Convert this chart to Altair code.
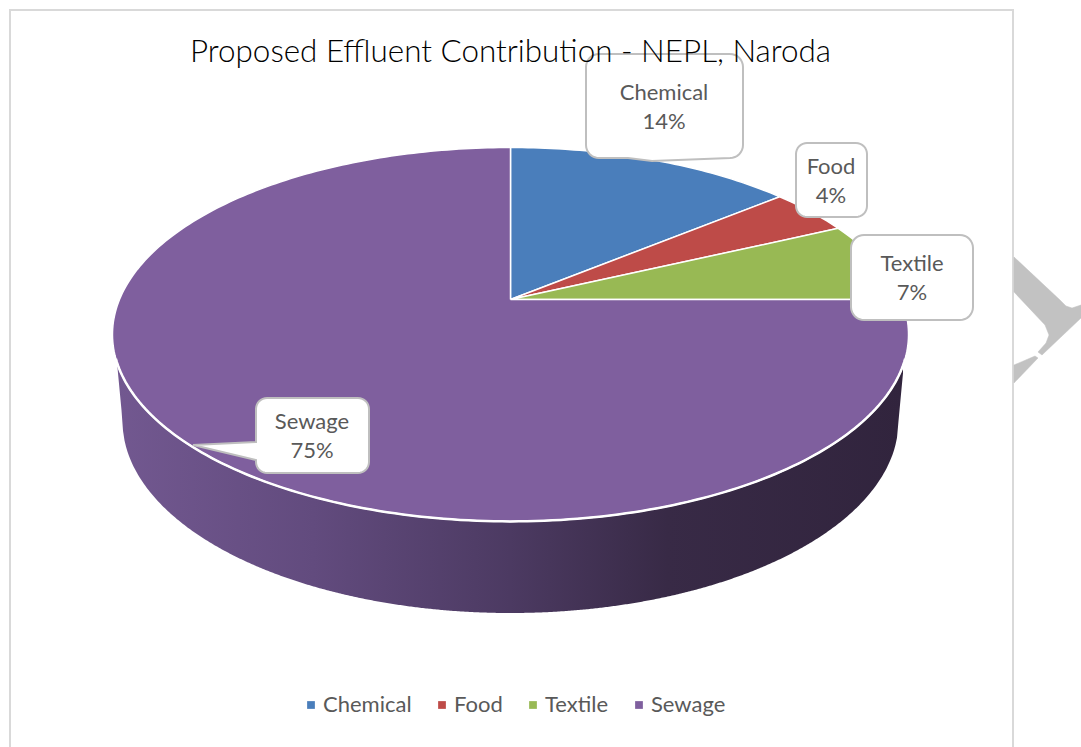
import altair as alt
import numpy as np
import pandas as pd

# Effluent shares, in percent
categories = ["Chemical", "Food", "Textile", "Sewage"]
shares = [14, 4, 7, 75]
colors = ["#4a7ebb", "#be4b48", "#98b954", "#7f5f9e"]

W, H = 1081, 747
FONT = "Lato"

# Perspective of the pie's top face: apex on screen, radii and foreshortening
CX, APEX_Y = 510.5, 299.5
A, B, K = 391.0, 180.4, 0.187
TOP_RX = A / np.sqrt(1 - K**2)
TOP_RY = B / (1 - K**2)
TOP_CY = APEX_Y + B * K / (1 - K**2)

# Lower rim of the extruded side wall
WALL_CY, WALL_RX, WALL_RY = 421.0, 388.0, 192.0
WALL_START = 393.5

# Callouts: left, right, top, bottom, corner radius, tail points
callouts = {
    "Chemical": (586, 743, 54, 158, 13, [(652, 161), (628, 158)]),
    "Food": (796, 867, 143, 217, 11, []),
    "Textile": (851, 973, 235, 320, 13, []),
    "Sewage": (256, 369, 398, 473, 11, [(256, 460), (193, 445), (256, 442)]),
}
# Centre of each label's first line
label_anchor = {
    "Chemical": (664, 93),
    "Food": (831, 167),
    "Textile": (912, 264),
    "Sewage": (312, 422),
}

# Watermark fragments showing at the page's right edge
watermark_upper_x = [1014, 1060, 1066, 1072, 1081, 1081, 1042, 1038, 1046, 1049, 1045, 1014, 1014]
watermark_upper_y = [257, 300, 306, 308, 305, 318, 355, 352, 343, 335, 325, 292, 257]
watermark_lower_x = [1035, 1038, 1014, 1014, 1035]
watermark_lower_y = [356, 358, 383, 365, 356]


def project(theta):
    """Screen position of the pie's rim at a clockwise angle from the top."""
    w = 1 + K * np.cos(theta)
    return CX + A * np.sin(theta) / w, APEX_Y - B * np.cos(theta) / w


def wedge_rows():
    rows, start = [], 0.0
    for name, share in zip(categories, shares):
        end = start + share * 3.6
        steps = max(int(end - start), 2)
        angles = np.radians(np.linspace(start, end, steps + 1))
        rows.append({"category": name, "seq": 0, "x": CX, "y": APEX_Y})
        for i, t in enumerate(angles):
            x, y = project(t)
            rows.append({"category": name, "seq": i + 1, "x": x, "y": y})
        rows.append({"category": name, "seq": steps + 2, "x": CX, "y": APEX_Y})
        start = end
    return pd.DataFrame(rows)


def wall_rows():
    dxs = np.arange(-WALL_START, WALL_START + 0.5, 1.5)
    top = TOP_CY + TOP_RY * np.sqrt(1 - (dxs / TOP_RX) ** 2)
    start_y = top[0]
    inner = np.clip(np.abs(dxs) / WALL_RX, 0, 1)
    low = WALL_CY + WALL_RY * np.sqrt(1 - inner**2)
    outer = np.abs(dxs) > WALL_RX
    low[outer] = start_y + (WALL_CY - start_y) * (WALL_START - np.abs(dxs[outer])) / (WALL_START - WALL_RX)
    return pd.DataFrame({"x": CX + dxs, "top": top, "low": low})


def callout_rows(name):
    x0, x1, y0, y1, r, tail = callouts[name]
    pts = []
    corners = [
        (x1 - r, y0 + r, -90),
        (x1 - r, y1 - r, 0),
        (x0 + r, y1 - r, 90),
        (x0 + r, y0 + r, 180),
    ]
    for n, (cx, cy, a) in enumerate(corners):
        for d in np.radians(np.linspace(a, a + 90, 9)):
            pts.append((cx + r * np.cos(d), cy + r * np.sin(d)))
        # the tail leaves the bottom edge or the left edge
        if n == 1 and name == "Chemical":
            pts.extend(tail)
        if n == 2 and name == "Sewage":
            pts.extend(tail)
    pts.append(pts[0])
    return pd.DataFrame({"x": [p[0] for p in pts], "y": [p[1] for p in pts], "seq": range(len(pts))})


x_scale = alt.Scale(domain=[0, W], range=[0, W])
y_scale = alt.Scale(domain=[0, H], range=[0, H])
X = alt.X("x:Q", scale=x_scale, axis=None)
Y = alt.Y("y:Q", scale=y_scale, axis=None)
ORDER = alt.Order("seq:Q")

# Chart frame, open at the bottom of the page
frame = alt.Chart(
    pd.DataFrame({"x": [10, 10, 1013, 1013], "y": [H, 10, 10, H], "seq": [0, 1, 2, 3]})
).mark_line(stroke="#d9d9d9", strokeWidth=2).encode(x=X, y=Y, order=ORDER)

watermarks = [
    alt.Chart(pd.DataFrame({"x": xs, "y": ys, "seq": range(len(xs))}))
    .mark_line(fill="#c2c2c2", stroke="#c2c2c2", strokeWidth=0.5)
    .encode(x=X, y=Y, order=ORDER)
    for xs, ys in [(watermark_upper_x, watermark_upper_y), (watermark_lower_x, watermark_lower_y)]
]

wall = alt.Chart(wall_rows()).mark_area(
    color=alt.LinearGradient(
        gradient="linear", x1=0, y1=0, x2=1, y2=0,
        stops=[
            alt.GradientStop(color="#725890", offset=0),
            alt.GradientStop(color="#624b7e", offset=0.25),
            alt.GradientStop(color="#4c3a62", offset=0.5),
            alt.GradientStop(color="#382a46", offset=0.7),
            alt.GradientStop(color="#31243d", offset=1),
        ],
    )
).encode(x=X, y=alt.Y("top:Q", scale=y_scale, axis=None), y2="low:Q")

wedges = alt.Chart(wedge_rows()).mark_line(stroke="#ffffff", strokeWidth=1.5).encode(
    x=X,
    y=Y,
    order=ORDER,
    fill=alt.Fill(
        "category:N",
        sort=categories,
        scale=alt.Scale(domain=categories, range=colors),
        legend=alt.Legend(
            title=None,
            orient="none",
            legendX=300,
            legendY=694,
            columns=4,
            columnPadding=19,
            symbolType="square",
            symbolSize=60,
            symbolStrokeWidth=0,
            labelFont=FONT,
            labelFontSize=22,
            labelColor="#595959",
            labelOffset=1,
        ),
    ),
)

# White highlight along the front of the top face
rim_t = np.radians(np.arange(108, 253, 1.0))
rim_x, rim_y = project(rim_t)
rim = alt.Chart(
    pd.DataFrame({"x": rim_x, "y": rim_y, "seq": range(len(rim_x))})
).mark_line(stroke="#ffffff", strokeWidth=2.5).encode(x=X, y=Y, order=ORDER)

boxes = [
    alt.Chart(callout_rows(name)).mark_line(
        fill="#ffffff", stroke="#bfbfbf", strokeWidth=2
    ).encode(x=X, y=Y, order=ORDER)
    for name in categories
]

labels = alt.Chart(
    pd.DataFrame(
        {
            "x": [label_anchor[n][0] for n in categories],
            "y": [label_anchor[n][1] for n in categories],
            "text": [f"{n}\n{s}%" for n, s in zip(categories, shares)],
        }
    )
).mark_text(
    font=FONT, fontSize=22, color="#595959", lineBreak="\n", lineHeight=29, align="center", baseline="middle"
).encode(x=X, y=Y, text="text:N")

chart = (
    alt.layer(frame, *watermarks, wall, wedges, rim, *boxes, labels)
    .properties(
        width=W,
        height=H,
        padding=0,
        autosize=alt.AutoSizeParams(type="none"),
        background="#ffffff",
        title=alt.TitleParams(
            text="Proposed Effluent Contribution - NEPL, Naroda",
            font=FONT,
            fontSize=31.4,
            fontWeight=300,
            color="#000000",
            anchor="middle",
            offset=-68,
            dx=-30,
            zindex=1,
        ),
    )
    .configure_view(stroke=None)
)

chart.save("out.html", embed_options={"renderer": "svg", "actions": False})
